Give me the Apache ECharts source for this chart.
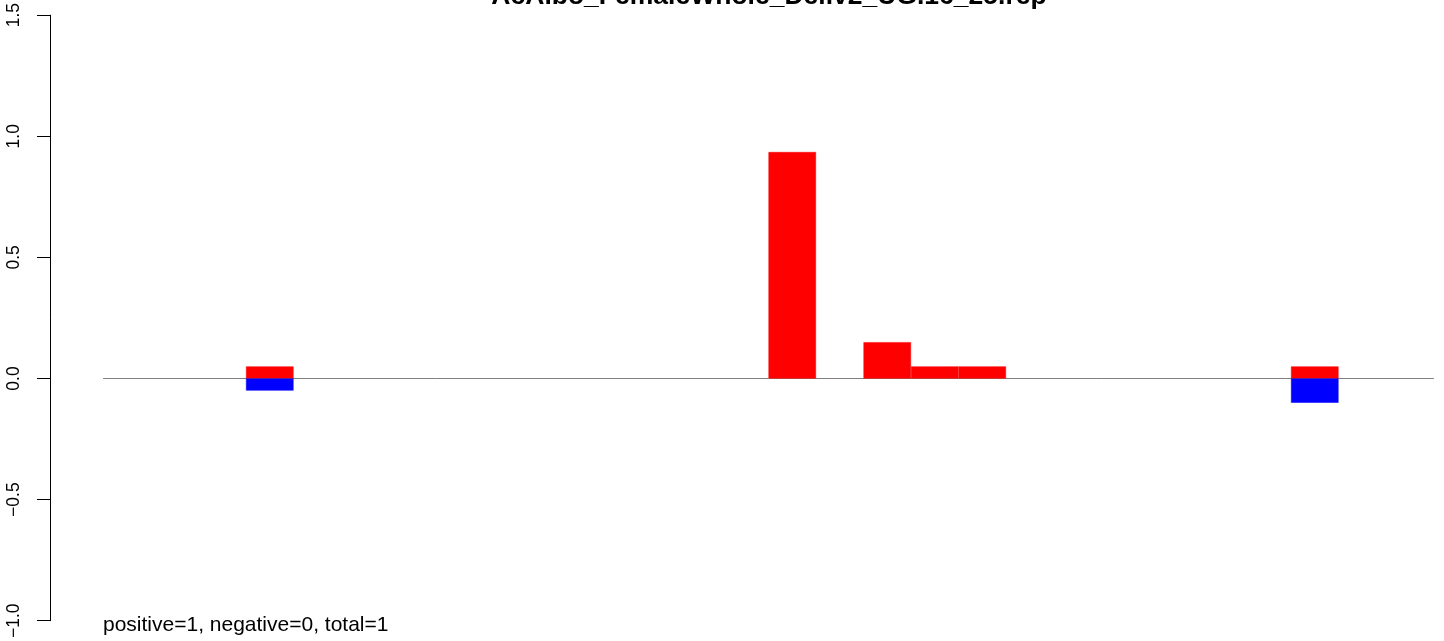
<!DOCTYPE html>
<html><head><meta charset="utf-8">
<script src="https://cdn.jsdelivr.net/npm/echarts@6/dist/echarts.min.js"></script>
<style>html,body{margin:0;padding:0;background:#fff}#c{width:1444px;height:641px}</style>
</head><body><div id="c"></div>
<script>
const titleText = "AcAlbo_FemaleWhole_Deliv2_UG.16_25.rep";
const noteText = "positive=1, negative=0, total=1";
const categories = Array.from({length: 28}, (_, i) => String(i + 1));
const positiveValues = [0,0,0,0.05,0,0,0,0,0,0,0,0,0,0,0.935,0,0.15,0.05,0.05,0,0,0,0,0,0,0.05,0,0];
const negativeValues = [0,0,0,-0.05,0,0,0,0,0,0,0,0,0,0,0,0,0,0,0,0,0,0,0,0,0,-0.1,0,0];
const yTicks = {min: -1, max: 1.5, interval: 0.5};

const asBars = arr => arr.map(v => (v === 0 ? '-' : v));

const chart = echarts.init(document.getElementById('c'), null, {renderer: 'canvas'});
chart.setOption({
  animation: false,
  backgroundColor: '#ffffff',
  title: {
    text: titleText, left: 764, top: -22, textAlign: 'center',
    textStyle: {fontFamily: 'Liberation Sans, Arial', fontWeight: 'bold', fontSize: 26.5, color: '#000'}
  },
  graphic: [{
    type: 'text', x: 103, y: 636,
    style: {text: noteText, font: '21px "Liberation Sans", Arial', fill: '#000', verticalAlign: 'bottom', align: 'left'}
  }],
  grid: {left: 103.5, right: 10.5, top: 15, bottom: 19, containLabel: false},
  xAxis: {
    type: 'category', data: categories,
    axisLine: {show: true, onZero: true, lineStyle: {color: '#808080', width: 1}},
    axisTick: {show: false}, axisLabel: {show: false}, splitLine: {show: false}
  },
  yAxis: {
    type: 'value', min: yTicks.min, max: yTicks.max, interval: yTicks.interval,
    offset: 53.5,
    axisLine: {show: true, lineStyle: {color: '#000', width: 1}},
    axisTick: {show: true, length: 13, lineStyle: {color: '#000'}},
    splitLine: {show: false},
    axisLabel: {
      rotate: 90, margin: 27, color: '#000', fontSize: 17.5, fontFamily: 'Liberation Sans, Arial',
      formatter: v => v.toFixed(1).replace('-', '\u2212')
    }
  },
  series: [
    {type: 'bar', data: asBars(positiveValues), barWidth: '100%', barGap: '-100%',
     itemStyle: {color: '#ff0000', borderColor: '#ff0000', borderWidth: 0.5}},
    {type: 'bar', data: asBars(negativeValues), barWidth: '100%', barGap: '-100%',
     itemStyle: {color: '#0000ff', borderColor: '#0000ff', borderWidth: 0.5}}
  ]
});
</script></body></html>
